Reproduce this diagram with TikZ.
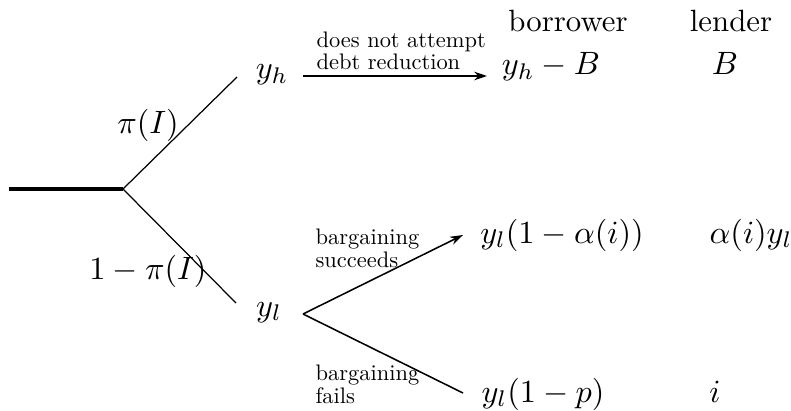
\RequirePackage{fix-cm}
\documentclass[tikz,border=0pt]{standalone}
\usetikzlibrary{arrows.meta}
\newcommand{\smalllabel}[1]{\scalebox{0.73}{\fontsize{10}{9.9}\selectfont\begin{tabular}[b]{@{}l@{}}#1\end{tabular}}}
\begin{document}
\begin{tikzpicture}[x=0.325pt,y=-0.325pt,
  mth/.style={inner sep=0pt,anchor=base,font=\fontsize{10.5}{12}\selectfont},
  head/.style={inner sep=0pt,anchor=base,font=\fontsize{10}{12}\selectfont},
  lbl/.style={inner sep=0pt,anchor=base west},
  branch/.style={line width=0.4pt},
  stem/.style={line width=1pt},
  movearrow/.style={line width=0.5pt,-{Stealth[length=4.2pt,width=2.8pt]}},
  toparrow/.style={line width=0.8pt,-{Stealth[length=4.2pt,width=2.8pt]}}]
\useasboundingbox (0,0) rectangle (791,410);
% coordinates
\coordinate (root) at (9,189);
\coordinate (n1) at (123,189);
\coordinate (hend) at (237,77);
\coordinate (lend) at (236,303);
\coordinate (tstart) at (303,76);
\coordinate (tend) at (487,76);
\coordinate (n2) at (303,314);
\coordinate (send) at (463,235);
\coordinate (fend) at (463,393);
% nodes
\node[head] (borrower) at (568,32) {borrower};
\node[head] (lender) at (731,32) {lender};
\node[mth] (yh) at (272,79) {$y_h$};
\node[mth] (yl) at (269,316) {$y_l$};
\node[mth] (pi) at (148,133) {$\pi(I)$};
\node[mth] (onepi) at (148,279) {$1-\pi(I)$};
\node[mth] (b1) at (551,75) {$y_h-B$};
\node[mth] (l1) at (725,75) {$B$};
\node[mth] (b2) at (562,243) {$y_l(1-\alpha(i))$};
\node[mth] (l2) at (751,243) {$\alpha(i)y_l$};
\node[mth] (b3) at (543,402) {$y_l(1-p)$};
\node[mth] (l3) at (715,402) {$i$};
\node[lbl] (tlab) at (316,70) {\smalllabel{does not attempt\\debt reduction}};
\node[lbl] (slab) at (315,267) {\smalllabel{bargaining\\succeeds}};
\node[lbl] (flab) at (315,403) {\smalllabel{bargaining\\fails}};
% connectors
\draw[stem] (root) -- (n1);
\draw[branch] (n1) -- (hend);
\draw[branch] (n1) -- (lend);
\draw[toparrow] (tstart) -- (tend);
\draw[movearrow] (n2) -- (send);
\draw[branch,line width=0.5pt] (n2) -- (fend);
\end{tikzpicture}
\end{document}
